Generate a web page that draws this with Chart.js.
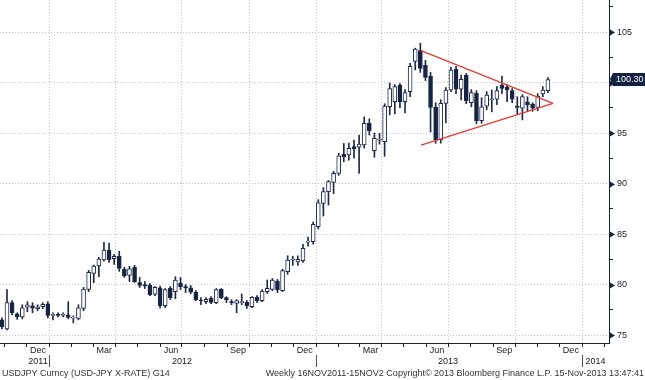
<!DOCTYPE html>
<html>
<head>
<meta charset="utf-8">
<title>USDJPY weekly</title>
<script src="https://cdn.jsdelivr.net/npm/chart.js@4.4.0/dist/chart.umd.min.js"></script>
<style>
  html, body { margin: 0; padding: 0; background: #fff; }
  #wrap { position: relative; width: 645px; height: 380px; }
</style>
</head>
<body>
<div id="wrap"><canvas id="myChart"></canvas></div>
<script>
// weekly candles, first bar = week of 21 Oct 2011
const firstWeek = '2011-10-21';
const opens = [77.2, 76.5, 75.6, 78.2, 77.1, 76.8, 77.75, 77.9, 77.6, 77.8,
  78.1, 76.95, 77.05, 76.95, 77.0, 76.7, 76.65, 77.64, 79.52, 81.1,
  81.83, 82.43, 83.42, 82.55, 82.8, 81.5, 80.9, 81.7, 80.2, 80.0,
  79.95, 79.05, 79.68, 77.9, 79.65, 79.3, 80.15, 79.8, 79.68, 79.25,
  78.45, 78.3, 78.63, 78.2, 79.52, 78.7, 78.3, 78.14, 78.2, 78.24,
  77.8, 78.73, 78.4, 79.29, 79.52, 80.35, 79.39, 81.27, 82.4, 82.23,
  82.36, 84.2, 84.24, 85.72, 88.04, 89.19, 90.1, 91.0, 92.9, 92.82,
  93.65, 93.6, 93.81, 95.96, 93.25, 94.3, 94.14, 97.6, 98.1, 99.75,
  98.1, 99.1, 102.1, 103.15, 101.7, 100.64, 97.54, 94.31, 97.94, 99.26,
  101.34, 99.33, 100.7, 98.0, 98.93, 96.22, 97.67, 98.3, 98.34, 99.75,
  99.58, 99.19, 97.67, 97.45, 98.1, 97.87, 97.54, 98.86, 99.19];
const highs = [77.5, 76.7, 79.5, 78.4, 77.2, 78.0, 78.3, 78.2, 78.0, 78.2,
  78.3, 77.2, 77.2, 77.2, 78.3, 76.9, 78.0, 79.72, 81.4, 81.93,
  82.7, 84.18, 84.1, 83.0, 83.3, 81.7, 81.8, 81.9, 80.7, 80.3,
  80.1, 79.8, 79.85, 79.6, 79.8, 80.78, 80.7, 80.0, 79.9, 79.4,
  78.7, 78.7, 78.8, 79.6, 79.6, 78.8, 78.5, 78.5, 79.06, 78.4,
  78.8, 78.9, 79.5, 80.45, 80.6, 80.5, 81.5, 82.85, 82.8, 82.85,
  83.98, 84.7, 86.2, 88.4, 89.6, 90.3, 91.2, 93.0, 93.97, 94.0,
  94.3, 94.8, 96.6, 96.4, 95.0, 94.96, 97.9, 99.95, 99.8, 99.9,
  99.3, 101.9, 103.4, 103.9, 102.2, 101.0, 98.0, 98.3, 99.5, 101.5,
  101.6, 100.74, 100.9, 99.3, 99.2, 98.5, 99.1, 99.26, 99.6, 100.64,
  99.8, 99.4, 98.6, 98.8, 98.6, 98.0, 98.9, 99.6, 100.5];
const lows = [76.1, 75.6, 75.5, 77.0, 76.55, 76.6, 77.3, 77.2, 77.4, 77.6,
  76.7, 76.5, 76.8, 76.8, 76.6, 76.2, 76.5, 77.4, 79.3, 80.17,
  80.77, 82.3, 82.2, 82.0, 81.3, 80.7, 80.3, 80.2, 79.7, 79.6,
  78.9, 78.9, 77.65, 77.7, 78.5, 78.6, 79.5, 79.2, 79.1, 78.4,
  78.0, 78.1, 78.1, 78.1, 78.6, 78.2, 78.0, 77.2, 78.0, 77.64,
  77.7, 78.2, 78.3, 79.1, 79.4, 79.2, 79.3, 81.0, 81.9, 81.9,
  82.2, 83.8, 84.0, 85.5, 86.78, 87.87, 89.0, 90.8, 92.16, 92.3,
  92.5, 91.0, 93.5, 94.8, 92.6, 93.9, 92.7, 96.8, 96.9, 97.5,
  97.0, 98.6, 101.25, 101.0, 100.2, 95.1, 93.98, 94.0, 96.0, 99.1,
  98.9, 98.27, 97.9, 97.6, 95.9, 95.96, 97.3, 97.1, 97.8, 98.9,
  98.1, 98.0, 96.9, 96.3, 97.2, 97.15, 97.2, 98.6, 99.0];
const closes = [76.3, 75.8, 78.2, 77.2, 76.8, 77.7, 78.0, 77.65, 77.8, 78.05,
  76.95, 77.05, 76.95, 77.05, 76.75, 76.75, 77.7, 79.55, 81.2, 81.83,
  82.52, 83.42, 82.43, 82.8, 81.6, 80.87, 81.55, 80.28, 79.9, 79.85,
  79.0, 79.72, 77.9, 79.5, 78.7, 80.45, 79.78, 79.7, 79.25, 78.5,
  78.4, 78.53, 78.24, 79.5, 78.7, 78.47, 78.2, 78.4, 78.3, 77.9,
  78.73, 78.4, 79.36, 79.62, 80.45, 79.46, 81.37, 82.43, 82.5, 82.5,
  83.58, 84.3, 85.96, 88.1, 89.19, 90.18, 91.0, 92.75, 92.64, 93.49,
  93.42, 93.9, 95.96, 95.23, 94.47, 94.37, 97.67, 99.4, 99.6, 98.1,
  99.0, 101.6, 103.3, 101.4, 100.5, 97.54, 94.31, 97.93, 99.26, 101.24,
  99.33, 100.32, 98.2, 99.0, 96.22, 97.6, 98.76, 98.38, 99.19, 99.42,
  99.26, 98.34, 97.54, 98.6, 97.77, 97.45, 98.66, 99.26, 100.3];

// triangle drawn on the chart
const trendDates = ['2013-05-25', '2013-11-22'];
const upperTrend = [103.15, 97.94];
const lowerTrend = [93.81, 97.94];

const yTicks = [75, 80, 85, 90, 95, 100, 105];
const monthLabels = ['Mar', 'Jun', 'Sep', 'Dec'];
const labelMonths = [2, 5, 8, 11];
const yearLabels = ['2011', '2012', '2013', '2014'];
const lastPrice = 100.30;

const DAY = 86400000;
const t0 = Date.parse(firstWeek);
function dayOf(s) { return (Date.parse(s) - t0) / DAY; }
function dayUTC(y, m, d) { return (Date.UTC(y, m, d || 1) - t0) / DAY; }

const NAVY = '#14213f';
const AXIS = '#1b2437';
const GRID = '#c4c4c4';
const FONT = 'Liberation Sans, Arial, sans-serif';

// month starts Nov 2011 .. Feb 2014
var monthStarts = [];
for (let y = 2011; y <= 2014; y++) {
  for (let m = 0; m < 12; m++) {
    let d = dayUTC(y, m, 1);
    if (d > 0 && d < 850) monthStarts.push({ y: y, m: m, d: d });
  }
}

const bbgAxes = {
  id: 'bbgAxes',
  afterDraw(chart) {
    const ctx = chart.ctx;
    const xs = chart.scales.x, ys = chart.scales.y, area = chart.chartArea;
    ctx.save();

    // little pointers on major y ticks
    ctx.fillStyle = AXIS;
    yTicks.forEach(v => {
      let py = Math.round(ys.getPixelForValue(v)) + 0.5;
      ctx.beginPath();
      ctx.moveTo(area.right + 1, py - 3);
      ctx.lineTo(area.right + 6, py);
      ctx.lineTo(area.right + 1, py + 3);
      ctx.closePath();
      ctx.fill();
    });

    // last price tag
    let py = Math.round(ys.getPixelForValue(lastPrice));
    ctx.fillStyle = NAVY;
    ctx.beginPath();
    ctx.moveTo(area.right + 1, py);
    ctx.lineTo(area.right + 4, py - 6);
    ctx.lineTo(645, py - 6);
    ctx.lineTo(645, py + 7);
    ctx.lineTo(area.right + 4, py + 7);
    ctx.closePath();
    ctx.fill();
    ctx.fillStyle = '#fff';
    ctx.font = '9px ' + FONT;
    ctx.textAlign = 'left';
    ctx.textBaseline = 'middle';
    ctx.fillText(lastPrice.toFixed(2), area.right + 7, py + 1);

    // month names in the middle of the month
    ctx.fillStyle = '#1a1a1a';
    ctx.font = '9px ' + FONT;
    ctx.textAlign = 'center';
    var labelled = {};
    monthStarts.forEach(ms => {
      let k = labelMonths.indexOf(ms.m);
      if (k < 0) return;
      let mid = (ms.d + dayUTC(ms.y, ms.m + 1, 1)) / 2;
      let px = xs.getPixelForValue(mid);
      if (px < area.left + 5 || px > area.right - 5) return;
      ctx.fillText(monthLabels[k], px, area.bottom + 8);
      labelled[ms.y] = px;
    });

    // years and separators
    yearLabels.forEach(lab => {
      let y = +lab;
      let a = Math.max(dayUTC(y, 0, 1), xs.min), b = Math.min(dayUTC(y + 1, 0, 1), xs.max);
      if (b <= a) return;
      let px;
      if (dayUTC(y, 0, 1) >= xs.min && dayUTC(y + 1, 0, 1) <= xs.max) px = xs.getPixelForValue(dayUTC(y, 6, 1));
      else if (labelled[y] !== undefined) px = labelled[y];
      else px = (xs.getPixelForValue(a) + xs.getPixelForValue(b)) / 2;
      ctx.fillText(lab, px, area.bottom + 19);
      let sx = xs.getPixelForValue(dayUTC(y, 0, 1));
      if (sx > area.left && sx < area.right) {
        ctx.strokeStyle = '#555';
        ctx.lineWidth = 1;
        ctx.beginPath();
        ctx.moveTo(Math.round(sx) + 0.5, area.bottom + 12);
        ctx.lineTo(Math.round(sx) + 0.5, area.bottom + 24);
        ctx.stroke();
      }
    });

    // footer
    ctx.fillStyle = '#333';
    ctx.textAlign = 'left';
    ctx.fillText('USDJPY Curncy (USD-JPY X-RATE) G14', 2, area.bottom + 31);
    ctx.textAlign = 'right';
    ctx.fillText('Weekly 16NOV2011-15NOV2 Copyright\u00a9 2013 Bloomberg Finance L.P. 15-Nov-2013 13:47:41', 644, area.bottom + 31);
    ctx.restore();
  }
};

var ctx = document.getElementById('myChart').getContext('2d');
var chart = new Chart(ctx, {
  type: 'bar',
  data: {
    datasets: [{
      type: 'line',
      data: trendDates.map((d, i) => ({ x: dayOf(d), y: upperTrend[i] })),
      borderColor: '#e23b33',
      borderWidth: 1.3,
      pointRadius: 0,
      tension: 0,
      order: 0
    }, {
      type: 'line',
      data: trendDates.map((d, i) => ({ x: dayOf(d), y: lowerTrend[i] })),
      borderColor: '#e23b33',
      borderWidth: 1.3,
      pointRadius: 0,
      tension: 0,
      order: 0
    }, {
      // candle bodies
      data: opens.map((o, i) => ({ x: 7 * i, y: [o, closes[i]] })),
      backgroundColor: opens.map((o, i) => closes[i] >= o ? '#ffffff' : NAVY),
      borderColor: '#1e2b48',
      borderWidth: 1,
      borderSkipped: false,
      barThickness: 4,
      grouped: false,
      order: 1
    }, {
      // wicks
      data: highs.map((h, i) => ({ x: 7 * i, y: [lows[i], h] })),
      backgroundColor: '#1e2b48',
      barThickness: 1,
      grouped: false,
      order: 2
    }]
  },
  options: {
    responsive: true,
    maintainAspectRatio: false,
    animation: false,
    layout: { padding: 0 },
    plugins: { legend: { display: false }, tooltip: { enabled: false } },
    scales: {
      x: {
        type: 'linear',
        min: 4.4,
        max: 839.8,
        offset: false,
        grid: {
          offset: false,
          color: c => (c.tick && monthStarts.some(ms => ms.d === c.tick.value && ms.m % 3 === 0)) ? GRID : 'rgba(0,0,0,0)',
          tickColor: AXIS,
          tickLength: 4
        },
        border: { color: AXIS, width: 1, dash: [1, 2] },
        ticks: { display: false, autoSkip: false },
        afterBuildTicks: s => { s.ticks = monthStarts.map(ms => ({ value: ms.d })); },
        afterFit: s => { s.height = 37; s.paddingLeft = 0; s.paddingRight = 0; }
      },
      y: {
        type: 'linear',
        position: 'right',
        min: 74.21,
        max: 108.17,
        grid: {
          color: c => (c.tick && c.tick.value % 5 === 0) ? GRID : 'rgba(0,0,0,0)',
          tickColor: AXIS,
          tickLength: 4
        },
        border: { color: AXIS, width: 1, dash: [1, 2] },
        ticks: {
          autoSkip: false,
          padding: 4,
          color: '#1a1a1a',
          font: { family: FONT, size: 9 },
          callback: v => (v % 5 === 0 ? v : '')
        },
        afterBuildTicks: s => {
          var t = [];
          yTicks.forEach(v => { t.push({ value: v }); t.push({ value: v + 2.5 }); });
          s.ticks = t;
        },
        afterFit: s => { s.width = 36; s.paddingTop = 0; s.paddingBottom = 0; }
      }
    }
  },
  plugins: [bbgAxes]
});
</script>
</body>
</html>
